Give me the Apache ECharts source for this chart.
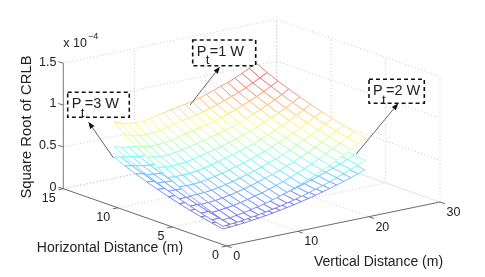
<!DOCTYPE html>
<html><head><meta charset="utf-8">
<style>html,body{margin:0;padding:0;background:#fff}#c{width:485px;height:277px}</style>
<script src="https://cdn.jsdelivr.net/npm/echarts@6/dist/echarts.min.js"></script>
</head><body><div id="c"></div>
<script>
const verticalDistance=[1,2,3,4,5,6,7,8,9,10,11,12,13,14,15,16,17,18,19,20,21];
const horizontalDistance=[1,2,3,4,5,6,7,8,9,10,11];
const verticalTicks=[0,10,20,30];
const horizontalTicks=[0,5,10,15];
const heightTicks=[0,0.5,1,1.5];
const crlbPt3=[
[.140,.146,.153,.161,.171,.182,.194,.207,.222,.238,.255,.274,.294,.314,.337,.360,.385,.411,.438,.467,.497],
[.165,.169,.175,.182,.192,.203,.215,.227,.242,.258,.274,.293,.312,.332,.354,.377,.402,.427,.454,.483,.512],
[.194,.196,.200,.207,.216,.226,.238,.251,.265,.280,.296,.314,.333,.352,.374,.396,.420,.445,.472,.500,.529],
[.225,.226,.228,.234,.242,.252,.264,.276,.290,.305,.320,.337,.356,.374,.396,.418,.441,.466,.492,.520,.549],
[.260,.258,.259,.263,.271,.281,.292,.305,.318,.332,.347,.363,.381,.399,.420,.442,.464,.488,.514,.541,.570],
[.298,.294,.293,.296,.303,.312,.323,.336,.349,.362,.376,.391,.408,.426,.447,.468,.489,.513,.538,.565,.593],
[.340,.332,.330,.331,.338,.346,.357,.369,.382,.394,.408,.422,.438,.455,.475,.496,.516,.539,.564,.590,.618],
[.384,.374,.369,.369,.375,.383,.394,.406,.418,.429,.442,.455,.470,.487,.506,.526,.546,.568,.592,.618,.645],
[.432,.419,.411,.410,.415,.422,.433,.445,.456,.467,.478,.490,.505,.521,.539,.559,.577,.599,.622,.648,.674],
[.483,.467,.457,.454,.458,.465,.475,.486,.497,.507,.517,.528,.542,.557,.575,.593,.611,.632,.655,.679,.705],
[.546,.525,.512,.507,.510,.516,.526,.537,.547,.556,.565,.574,.587,.601,.618,.636,.652,.672,.694,.718,.743]];
const crlbPt2=[
[.172,.179,.187,.197,.209,.223,.238,.254,.272,.292,.312,.336,.360,.385,.413,.441,.472,.503,.537,.572,.609],
[.202,.207,.214,.223,.235,.249,.263,.278,.296,.316,.336,.359,.382,.407,.434,.462,.492,.523,.556,.592,.627],
[.238,.240,.245,.254,.265,.277,.292,.307,.325,.343,.363,.385,.408,.431,.458,.485,.515,.545,.578,.613,.648],
[.276,.277,.279,.287,.296,.309,.323,.338,.355,.374,.392,.413,.436,.458,.485,.512,.540,.571,.603,.637,.673],
[.319,.316,.317,.322,.332,.344,.358,.374,.390,.407,.425,.445,.467,.489,.515,.541,.568,.598,.630,.663,.698],
[.365,.360,.359,.363,.371,.382,.396,.412,.428,.443,.461,.479,.500,.522,.548,.573,.599,.628,.659,.692,.726],
[.417,.407,.404,.405,.414,.424,.437,.452,.468,.483,.500,.517,.537,.557,.582,.608,.632,.660,.691,.723,.757],
[.470,.458,.452,.452,.459,.469,.483,.497,.512,.526,.541,.557,.576,.597,.620,.644,.669,.696,.725,.757,.790],
[.529,.513,.503,.502,.508,.517,.530,.545,.559,.572,.586,.600,.619,.638,.660,.685,.707,.734,.762,.794,.826],
[.592,.572,.560,.556,.561,.570,.582,.595,.609,.621,.633,.647,.664,.682,.704,.726,.748,.774,.802,.832,.864],
[.669,.643,.627,.621,.625,.632,.644,.658,.670,.681,.692,.703,.719,.736,.757,.779,.799,.823,.850,.880,.910]];
const crlbPt1=[
[.248,.258,.271,.285,.303,.322,.343,.366,.393,.421,.451,.485,.520,.556,.596,.637,.681,.727,.775,.827,.880],
[.292,.299,.310,.322,.340,.359,.381,.402,.428,.457,.485,.519,.552,.588,.627,.667,.712,.756,.804,.855,.906],
[.343,.347,.354,.366,.382,.400,.421,.444,.469,.496,.524,.556,.589,.623,.662,.701,.743,.788,.835,.885,.936],
[.398,.400,.404,.414,.428,.446,.467,.489,.513,.540,.566,.596,.630,.662,.701,.740,.781,.825,.871,.920,.972],
[.460,.457,.458,.466,.480,.497,.517,.540,.563,.588,.614,.643,.674,.706,.743,.782,.821,.864,.910,.958,1.009],
[.527,.520,.519,.524,.536,.552,.572,.595,.618,.641,.666,.692,.722,.754,.791,.828,.866,.908,.952,1.000,1.050],
[.602,.588,.584,.586,.598,.612,.632,.653,.676,.697,.722,.747,.775,.805,.841,.878,.913,.954,.998,1.044,1.094],
[.680,.662,.653,.653,.664,.678,.697,.719,.740,.759,.782,.805,.832,.862,.896,.931,.966,1.005,1.048,1.094,1.142],
[.765,.742,.727,.726,.735,.747,.766,.788,.807,.827,.846,.867,.894,.922,.954,.989,1.021,1.060,1.101,1.147,1.193],
[.855,.827,.809,.804,.811,.823,.841,.860,.880,.897,.915,.935,.959,.986,1.018,1.050,1.081,1.119,1.159,1.202,1.248],
[.966,.929,.906,.897,.903,.913,.931,.950,.968,.984,1.000,1.016,1.039,1.064,1.094,1.126,1.154,1.189,1.228,1.271,1.315]];

const FONT='"Liberation Sans",Arial,sans-serif';
const ORIGIN=[226.7,246], VSTEP=[7.11,-1.4667], HSTEP=[-10.89,-3.82], ZSTEP=-83.67;
const project=(v,h,z)=>[ORIGIN[0]+v*VSTEP[0]+h*HSTEP[0], ORIGIN[1]+v*VSTEP[1]+h*HSTEP[1]+z*ZSTEP];
const CMIN=.14,CMAX=1.315,PALE=.42;
function jet(z){
  const t=Math.max(0,Math.min(.93,(z-CMIN)/(CMAX-CMIN)));
  const ch=c=>{
    const full=255*Math.max(0,Math.min(1,1.5-Math.abs(4*t-c)));
    return Math.round(full+(255-full)*PALE);
  };
  return `rgb(${ch(3)},${ch(2)},${ch(1)})`;
}
function meshSeries(matrix){
  const cells=[];
  for(let j=horizontalDistance.length-2;j>=0;j--)
    for(let i=verticalDistance.length-2;i>=0;i--) cells.push([i,j]);
  return {type:'custom',coordinateSystem:'cartesian2d',silent:true,clip:false,progressive:0,animation:false,z:3,
    data:cells,
    renderItem(params,api){
      const i=api.value(0),j=api.value(1);
      const node=(a,b)=>{
        const z=matrix[b][a];
        return {z,p:api.coord(project(verticalDistance[a],horizontalDistance[b],z))};
      };
      const q=[node(i,j),node(i+1,j),node(i+1,j+1),node(i,j+1)];
      const kids=[{type:'polygon',shape:{points:q.map(n=>n.p)},style:{fill:'#fff',stroke:null}}];
      for(let k=0;k<4;k++){
        const A=q[k],B=q[(k+1)%4];
        kids.push({type:'line',shape:{x1:A.p[0],y1:A.p[1],x2:B.p[0],y2:B.p[1]},
          style:{stroke:jet((A.z+B.z)/2),lineWidth:.85,fill:null}});
      }
      return {type:'group',children:kids};
    }};
}
function seg(a,b,stroke,lineWidth,dash){
  const p=project(...a),q=project(...b);
  return {type:'line',shape:{x1:p[0],y1:p[1],x2:q[0],y2:q[1]},style:{stroke,lineWidth,lineDash:dash||null,fill:null}};
}
function label(text,x,y,align,size){
  return {type:'text',style:{text:String(text),x,y,align,verticalAlign:'middle',fill:'#222',font:`${size||12.5}px ${FONT}`}};
}
const VMAX=verticalTicks[3],HMAX=horizontalTicks[3],ZMAX=heightTicks[3];
const gridSeries={type:'custom',coordinateSystem:'cartesian2d',silent:true,clip:false,animation:false,z:1,data:[[0,0]],
  renderItem(){
    const k=[],G='#c4c4c4',D=[1,2.4];
    verticalTicks.forEach(v=>{
      if(v>0)k.push(seg([v,0,0],[v,HMAX,0],G,.9,D));
      k.push(seg([v,HMAX,0],[v,HMAX,ZMAX],G,.9,D));
    });
    horizontalTicks.forEach(h=>{
      if(h>0)k.push(seg([0,h,0],[VMAX,h,0],G,.9,D));
      k.push(seg([VMAX,h,0],[VMAX,h,ZMAX],G,.9,D));
    });
    heightTicks.forEach(z=>{
      k.push(seg([0,HMAX,z],[VMAX,HMAX,z],G,.9,D));
      k.push(seg([VMAX,HMAX,z],[VMAX,0,z],G,.9,D));
    });
    return {type:'group',children:k};
  }};
const frameSeries={type:'custom',coordinateSystem:'cartesian2d',silent:true,clip:false,animation:false,z:5,data:[[0,0]],
  renderItem(){
    const k=[],AX='#6a6a6a';
    k.push(seg([0,HMAX,0],[0,HMAX,ZMAX],'#8a8a8a',1.1));
    k.push(seg([0,0,0],[0,HMAX,0],AX,1));
    k.push(seg([0,0,0],[VMAX,0,0],AX,1));
    horizontalTicks.forEach(h=>{
      const p=project(0,h,0);
      k.push({type:'line',shape:{x1:p[0],y1:p[1],x2:p[0]-5,y2:p[1]+1},style:{stroke:AX,lineWidth:1}});
      k.push(label(h,p[0]-7.7,p[1]+10,'right'));
    });
    verticalTicks.forEach(v=>{
      const p=project(v,0,0);
      k.push({type:'line',shape:{x1:p[0],y1:p[1],x2:p[0]+5,y2:p[1]+1.75},style:{stroke:AX,lineWidth:1}});
      k.push(label(v,p[0]+6.5,p[1]+10.5,'left'));
    });
    heightTicks.forEach(z=>{
      const p=project(0,HMAX,z);
      k.push({type:'line',shape:{x1:p[0],y1:p[1],x2:p[0]-5,y2:p[1]-1.5},style:{stroke:AX,lineWidth:1}});
      k.push(label(z,p[0]-7,p[1]-1,'right'));
    });
    return {type:'group',children:k};
  }};
function box(x,y,w,h,sub,rest){
  return [
    {type:'rect',z:20,shape:{x,y,width:w,height:h},style:{fill:'#fff',stroke:'#111',lineWidth:1.6,lineDash:[4,3]}},
    {type:'text',z:21,style:{text:'P',x:x+4,y:y+11.5,fill:'#222',verticalAlign:'middle',font:`14.5px ${FONT}`}},
    {type:'text',z:21,style:{text:sub,x:x+13,y:y+20.5,fill:'#222',verticalAlign:'middle',font:`13.5px ${FONT}`}},
    {type:'text',z:21,style:{text:rest,x:x+17,y:y+11.5,fill:'#222',verticalAlign:'middle',font:`14.5px ${FONT}`}}
  ];
}
function arrow(x1,y1,x2,y2){
  const a=Math.atan2(y2-y1,x2-x1),L=7,W=2.6,bx=x2-L*Math.cos(a),by=y2-L*Math.sin(a),nx=-Math.sin(a)*W,ny=Math.cos(a)*W;
  return [
    {type:'line',z:19,shape:{x1,y1,x2:bx,y2:by},style:{stroke:'#555',lineWidth:.9}},
    {type:'polygon',z:19,shape:{points:[[x2,y2],[bx+nx,by+ny],[bx-nx,by-ny]]},style:{fill:'#111'}}
  ];
}
const chart=echarts.init(document.getElementById('c'),null,{renderer:'canvas'});
chart.setOption({
  animation:false,backgroundColor:'#fff',
  grid:{left:0,right:0,top:0,bottom:0},
  xAxis:{type:'value',min:0,max:485,show:false},
  yAxis:{type:'value',min:0,max:277,inverse:true,show:false},
  series:[gridSeries,meshSeries(crlbPt3),meshSeries(crlbPt2),meshSeries(crlbPt1),frameSeries],
  graphic:[
    {type:'text',z:22,rotation:Math.PI/2,x:27,y:127,style:{text:'Square Root of CRLB',align:'center',verticalAlign:'middle',fill:'#222',font:`14.8px ${FONT}`}},
    {type:'text',z:22,x:110,y:247.7,style:{text:'Horizontal Distance (m)',align:'center',verticalAlign:'middle',fill:'#222',font:`14px ${FONT}`}},
    {type:'text',z:22,x:378.5,y:262,style:{text:'Vertical Distance (m)',align:'center',verticalAlign:'middle',fill:'#222',font:`14px ${FONT}`}},
    {type:'text',z:22,x:63.3,y:43.5,style:{text:'x 10',verticalAlign:'middle',fill:'#222',font:`12.5px ${FONT}`}},
    {type:'text',z:22,x:88,y:37,style:{text:'\u22124',verticalAlign:'middle',fill:'#222',font:`9px ${FONT}`}},
    ...arrow(190,105,220,66.7),...arrow(113.3,157.7,88.3,121.7),...arrow(356,154.3,398.3,103.3),
    ...box(67.7,92.3,61.6,25,'t','=3 W'),...box(192.7,40,63,25.7,'t','=1 W'),...box(369,79.3,55.3,24,'t','=2 W')
  ]
});
</script></body></html>
